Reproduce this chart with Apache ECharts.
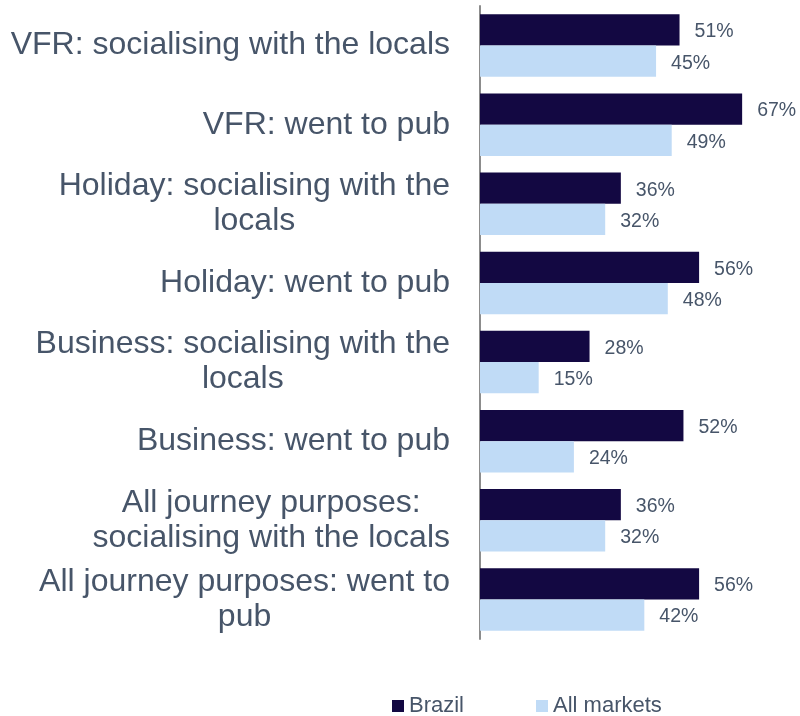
<!DOCTYPE html>
<html>
<head>
<meta charset="utf-8">
<script src="https://cdn.jsdelivr.net/npm/echarts@6/dist/echarts.min.js"></script>
<style>
  html, body { margin: 0; padding: 0; background: #fff; }
  #chart { width: 800px; height: 716px; }
</style>
</head>
<body>
<div id="chart"></div>
<script>
// categories, top to bottom
var categories = [
	"VFR: socialising with the locals",
	"VFR: went to pub",
	"Holiday: socialising with the\nlocals",
	"Holiday: went to pub",
	"Business: socialising with the\nlocals",
	"Business: went to pub",
	"All journey purposes:\nsocialising with the locals",
	"All journey purposes: went to\npub"
];
var brazil = [51, 67, 36, 56, 28, 52, 36, 56];
var allMarkets = [45, 49, 32, 48, 15, 24, 32, 42];

var textColor = "#475569";
var myCharts = echarts.init(document.getElementById("chart"));

var labelStyle = {
	show: true,
	position: "right",
	distance: 15,
	offset: [0, 2],
	formatter: "{c}%",
	color: textColor,
	fontFamily: "Liberation Sans",
	fontSize: 19.5
};

var option = {
	animation: false,
	grid: { left: 480, top: 6, width: 313, height: 633, containLabel: false },
	legend: {
		top: 690,
		left: 387,
		itemWidth: 12,
		itemHeight: 12,
		itemGap: 72,
		icon: "rect",
		textStyle: { color: textColor, fontFamily: "Liberation Sans", fontSize: 22 },
		data: ["Brazil", "All markets"]
	},
	xAxis: {
		type: "value",
		min: 0,
		max: 80,
		show: false
	},
	yAxis: {
		type: "category",
		inverse: true,
		data: categories,
		axisLine: { show: true, lineStyle: { color: "#8c8c8c", width: 2 } },
		axisTick: { show: false },
		axisLabel: {
			margin: 30,
			align: "right",
			// centre each line of a wrapped label inside its block
			formatter: function (value) {
				return value.split("\n").map(function (s) { return "{c|" + s + "}"; }).join("\n");
			},
			rich: {
				c: {
					align: "center",
					color: textColor,
					fontFamily: "Liberation Sans",
					fontSize: 32,
					lineHeight: 35
				}
			}
		}
	},
	series: [
		{
			name: "Brazil",
			type: "bar",
			data: brazil,
			barGap: "0%",
			barCategoryGap: "21%",
			itemStyle: { color: "#130842" },
			label: labelStyle
		},
		{
			name: "All markets",
			type: "bar",
			data: allMarkets,
			barGap: "0%",
			barCategoryGap: "21%",
			itemStyle: { color: "#c0dbf6" },
			label: labelStyle
		}
	]
};
myCharts.setOption(option);
</script>
</body>
</html>
